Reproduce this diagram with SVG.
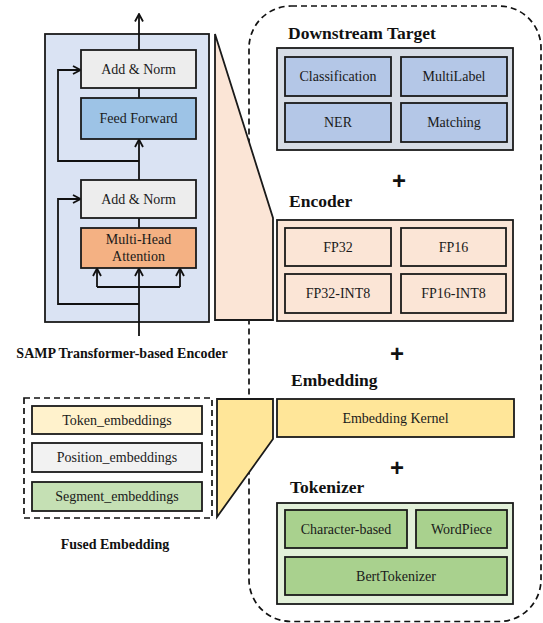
<svg xmlns="http://www.w3.org/2000/svg" width="543" height="623" viewBox="0 0 543 623">
<style>
.b{stroke:#1a1a1a;stroke-width:1.8}
.t{font-family:"Liberation Serif","Times New Roman",serif;font-size:14px;fill:#1a1a1a;text-anchor:middle;dominant-baseline:central}
.h{font-family:"Liberation Serif","Times New Roman",serif;font-size:17.5px;font-weight:bold;fill:#111}
.c{font-family:"Liberation Serif","Times New Roman",serif;font-size:14px;font-weight:bold;fill:#111;text-anchor:middle}
.p{font-family:"Liberation Sans",Arial,sans-serif;font-size:24px;font-weight:bold;fill:#111;text-anchor:middle;dominant-baseline:central}
.l{fill:none;stroke:#111;stroke-width:1.8}
.d{fill:none;stroke:#111;stroke-width:1.7;stroke-dasharray:6 4}
</style>
<defs>
<marker id="a" viewBox="0 0 10 10" markerWidth="10" markerHeight="10" refX="9" refY="5" orient="auto" markerUnits="userSpaceOnUse">
<path d="M1.5,1 L9,5 L1.5,9" fill="none" stroke="#111" stroke-width="1.8"/>
</marker>
</defs>
<rect id="white-bg" x="0" y="0" width="543" height="623" fill="#fff"/>
<rect id="outer-dashed" x="249" y="6" width="292" height="615.5" rx="42" class="d"/>

<g id="transformer-encoder">
<rect x="45" y="34" width="164" height="288" fill="#dae3f3" class="b"/>
</g>

<g id="connectors">
<path d="M139,50 V14" class="l" marker-end="url(#a)"/>
<path d="M139,88 V98" class="l"/>
<path d="M139,180 V139.5" class="l" marker-end="url(#a)"/>
<path d="M139,161 H58 V70 H80.5" class="l" marker-end="url(#a)"/>
<path d="M139,218 V228" class="l"/>
<path d="M139,304 H58 V199 H80.5" class="l" marker-end="url(#a)"/>
<path d="M139,336 V268.5" class="l" marker-end="url(#a)"/>
<path d="M97,287 H180" class="l"/>
<path d="M97,287 V268.5" class="l" marker-end="url(#a)"/>
<path d="M180,287 V268.5" class="l" marker-end="url(#a)"/>
</g>

<g id="add-norm-top"><rect x="81" y="50" width="115" height="38" fill="#ededed" class="b"/><text x="138.5" y="69" class="t">Add &amp; Norm</text></g>
<g id="feed-forward"><rect x="81" y="98" width="115" height="41" fill="#9dc3e6" class="b"/><text x="138.5" y="118.5" class="t">Feed Forward</text></g>
<g id="add-norm-bottom"><rect x="81" y="180" width="115" height="38" fill="#ededed" class="b"/><text x="138.5" y="199" class="t">Add &amp; Norm</text></g>
<g id="multi-head-attention"><rect x="81" y="228" width="115" height="40" fill="#f4b183" class="b"/><text x="138.5" y="239.5" class="t">Multi-Head</text><text x="138.5" y="256.5" class="t">Attention</text></g>
<text x="122" y="358" class="c">SAMP Transformer-based Encoder</text>

<g id="encoder-zoom"><polygon points="215,34 273,218 273,320 215,320" fill="#fbe5d6" class="b"/></g>

<g id="downstream-target">
<text x="288" y="39" class="h">Downstream Target</text>
<rect x="277" y="48" width="236" height="102" fill="#d6dce5" class="b"/>
<g id="classification"><rect x="285" y="57" width="106" height="39" fill="#b4c7e7" class="b"/><text x="338" y="76.5" class="t">Classification</text></g>
<g id="multilabel"><rect x="401" y="57" width="106" height="39" fill="#b4c7e7" class="b"/><text x="454" y="76.5" class="t">MultiLabel</text></g>
<g id="ner"><rect x="285" y="103" width="106" height="39" fill="#b4c7e7" class="b"/><text x="338" y="122.5" class="t">NER</text></g>
<g id="matching"><rect x="401" y="103" width="106" height="39" fill="#b4c7e7" class="b"/><text x="454" y="122.5" class="t">Matching</text></g>
</g>
<text x="399" y="180" class="p">+</text>

<g id="encoder">
<text x="289" y="207" class="h">Encoder</text>
<rect x="277" y="220" width="236" height="101" fill="#fbe5d6" class="b"/>
<g id="fp32"><rect x="285" y="228" width="106" height="38" fill="#fbe5d6" class="b"/><text x="338" y="247" class="t">FP32</text></g>
<g id="fp16"><rect x="401" y="228" width="105" height="38" fill="#fbe5d6" class="b"/><text x="453.5" y="247" class="t">FP16</text></g>
<g id="fp32-int8"><rect x="285" y="274" width="106" height="39" fill="#fbe5d6" class="b"/><text x="338" y="293.5" class="t">FP32-INT8</text></g>
<g id="fp16-int8"><rect x="401" y="274" width="105" height="39" fill="#fbe5d6" class="b"/><text x="453.5" y="293.5" class="t">FP16-INT8</text></g>
</g>
<text x="397" y="353" class="p">+</text>

<g id="fused-embedding">
<rect x="24" y="398" width="188" height="120" class="d"/>
<g id="token-emb"><rect x="32" y="406" width="170" height="28" fill="#fff2cc" class="b"/><text x="117" y="420" class="t">Token_embeddings</text></g>
<g id="position-emb"><rect x="32" y="443" width="170" height="29" fill="#f2f2f2" class="b"/><text x="117" y="457.5" class="t">Position_embeddings</text></g>
<g id="segment-emb"><rect x="32" y="482" width="170" height="29" fill="#c5e0b4" class="b"/><text x="117" y="496.5" class="t">Segment_embeddings</text></g>
<text x="115" y="549" class="c">Fused Embedding</text>
</g>

<g id="embedding-zoom"><polygon points="217,399 273,399 273,439 217,517" fill="#ffe699" class="b"/></g>

<g id="embedding">
<text x="291" y="386" class="h">Embedding</text>
<g id="embedding-kernel"><rect x="277" y="399" width="237" height="38" fill="#ffe699" class="b"/><text x="395.5" y="418" class="t">Embedding Kernel</text></g>
</g>
<text x="397" y="467" class="p">+</text>

<g id="tokenizer">
<text x="290" y="493" class="h">Tokenizer</text>
<rect x="277" y="503" width="236" height="101" fill="#e2f0d9" class="b"/>
<g id="char-based"><rect x="285" y="510" width="122" height="38" fill="#a9d18e" class="b"/><text x="346" y="529" class="t">Character-based</text></g>
<g id="wordpiece"><rect x="416" y="510" width="91" height="38" fill="#a9d18e" class="b"/><text x="461.5" y="529" class="t">WordPiece</text></g>
<g id="berttokenizer"><rect x="285" y="557" width="222" height="38" fill="#a9d18e" class="b"/><text x="396" y="576" class="t">BertTokenizer</text></g>
</g>
</svg>
